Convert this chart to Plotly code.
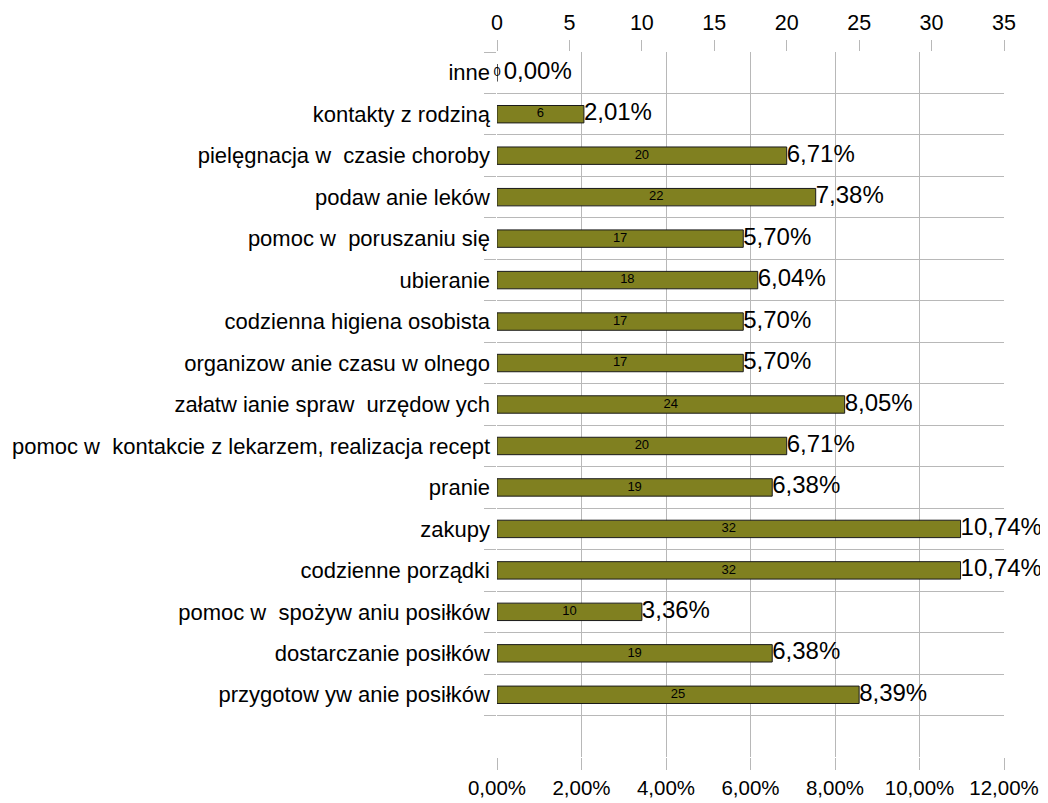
import plotly.graph_objects as go

categories = [
    "inne",
    "kontakty z rodziną",
    "pielęgnacja w  czasie choroby",
    "podaw anie leków",
    "pomoc w  poruszaniu się",
    "ubieranie",
    "codzienna higiena osobista",
    "organizow anie czasu w olnego",
    "załatw ianie spraw  urzędow ych",
    "pomoc w  kontakcie z lekarzem, realizacja recept",
    "pranie",
    "zakupy",
    "codzienne porządki",
    "pomoc w  spożyw aniu posiłków",
    "dostarczanie posiłków",
    "przygotow yw anie posiłków",
]
counts = [0, 6, 20, 22, 17, 18, 17, 17, 24, 20, 19, 32, 32, 10, 19, 25]
percent_labels = ["0,00%", "2,01%", "6,71%", "7,38%", "5,70%", "6,04%", "5,70%", "5,70%",
                  "8,05%", "6,71%", "6,38%", "10,74%", "10,74%", "3,36%", "6,38%", "8,39%"]
top_ticks = [0, 5, 10, 15, 20, 25, 30, 35]
bottom_ticks = [0, 0.02, 0.04, 0.06, 0.08, 0.10, 0.12]

FONT = "Liberation Sans, Arial, sans-serif"
GRID = "#b8b8b8"

cats = categories + [" "]
vals = counts + [None]
total = sum(counts)
shares = [c / total for c in counts]
# zero-length bar: keep its percent label clear of the small "0" count label
pct_display = [("\u00a0" + t) if c == 0 else t for c, t in zip(counts, percent_labels)]

fig = go.Figure()
# invisible trace on the percent (bottom) axis so that it is drawn
fig.add_trace(go.Scatter(
    y=categories, x=shares, xaxis="x", yaxis="y",
    mode="markers", marker=dict(opacity=0, size=1),
    hoverinfo="skip", showlegend=False,
))
fig.add_trace(go.Bar(
    y=cats, x=vals, orientation="h", xaxis="x2", yaxis="y",
    width=0.42,
    marker=dict(color="#808020", line=dict(color="#1a1a1a", width=1)),
    hoverinfo="skip", showlegend=False,
))
fig.add_trace(go.Scatter(
    y=categories, x=[c / 2 for c in counts], xaxis="x2", yaxis="y",
    mode="text", text=[str(c) for c in counts], textposition="middle center",
    textfont=dict(family=FONT, size=13, color="#000000"),
    cliponaxis=False, hoverinfo="skip", showlegend=False,
))
fig.add_trace(go.Scatter(
    y=categories, x=counts, xaxis="x2", yaxis="y",
    mode="text", text=pct_display, textposition="middle right",
    textfont=dict(family=FONT, size=24, color="#000000"),
    cliponaxis=False, hoverinfo="skip", showlegend=False,
))

fig.update_layout(
    template="none",
    width=1040, height=795,
    margin=dict(l=489, r=44, t=44, b=46, pad=0),
    paper_bgcolor="white", plot_bgcolor="white",
    separators=",.",
    font=dict(family=FONT, color="#000000"),
    xaxis=dict(
        range=[0, 0.12], tickvals=bottom_ticks, tickformat=".2%",
        showgrid=True, gridcolor=GRID, gridwidth=1,
        ticks="outside", ticklen=12, tickcolor=GRID, tickwidth=1,
        zeroline=False, showline=False, automargin=False,
        tickfont=dict(family=FONT, size=20.5, color="#000000"),
    ),
    xaxis2=dict(
        range=[0, 35], tickvals=top_ticks, overlaying="x", side="top",
        showgrid=False, ticks="outside", ticklen=11, tickcolor=GRID, tickwidth=1,
        ticklabelstandoff=1,
        zeroline=False, showline=False, anchor="y", automargin=False,
        tickfont=dict(family=FONT, size=21.5, color="#000000"),
    ),
    yaxis=dict(
        type="category", categoryorder="array", categoryarray=cats,
        range=[len(cats) - 0.5, -0.5], tickson="boundaries",
        showgrid=True, gridcolor=GRID, gridwidth=1,
        ticks="outside", ticklen=12, tickcolor=GRID, tickwidth=1,
        ticklabelstandoff=6, automargin=False,
        zeroline=False, showline=False,
        tickfont=dict(family=FONT, size=22, color="#000000"),
    ),
)

fig.write_html("out.html")
